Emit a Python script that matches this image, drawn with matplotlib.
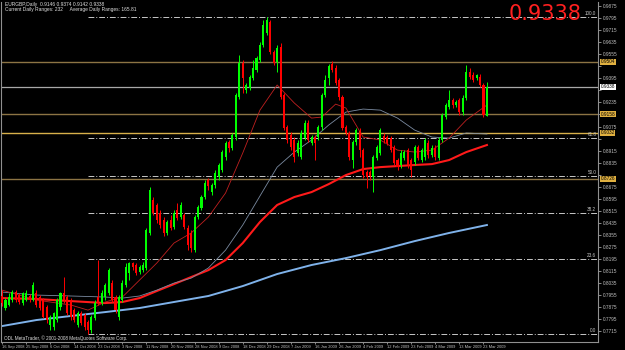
import numpy as np
import matplotlib
matplotlib.use("Agg")
import matplotlib.pyplot as plt

# -----------------------------------
# DAILY BARS  EURGBP  (16 Sep 2008 .. 24 Mar 2009)
# -----------------------------------
opens = [
    0.7948, 0.7868, 0.7888, 0.7921, 0.7974, 0.7954, 0.7901, 0.7921, 0.7948, 0.7921,
    0.7968, 0.7941, 0.7921, 0.7874, 0.7755, 0.7741, 0.7788, 0.7874, 0.7968, 0.7941,
    0.7921, 0.7854, 0.7755, 0.7835, 0.7821, 0.7775, 0.7721, 0.7801, 0.7941, 0.7901,
    0.7941, 0.7968, 0.8034, 0.7941, 0.7808, 0.7921, 0.8021, 0.8101, 0.8167, 0.8154,
    0.8107, 0.8120, 0.8134, 0.8367, 0.8586, 0.8553, 0.8500, 0.8453, 0.8367, 0.8453,
    0.8406, 0.8519, 0.8473, 0.8486, 0.8400, 0.8367, 0.8253, 0.8473, 0.8533, 0.8606,
    0.8719, 0.8639, 0.8686, 0.8739, 0.8785, 0.8872, 0.8972, 0.8932, 0.9005, 0.9271,
    0.9497, 0.9317, 0.9331, 0.9397, 0.9450, 0.9517, 0.9617, 0.9697, 0.9770, 0.9570,
    0.9504, 0.9603, 0.9284, 0.9071, 0.9018, 0.8985, 0.8899, 0.8872, 0.8998, 0.9098,
    0.8965, 0.9005, 0.9005, 0.9071, 0.9284, 0.9397, 0.9490, 0.9464, 0.9384, 0.9271,
    0.9071, 0.9032, 0.8852, 0.8972, 0.9045, 0.8918, 0.8772, 0.8772, 0.8739, 0.8865,
    0.8899, 0.9012, 0.9005, 0.8998, 0.8938, 0.8852, 0.8819, 0.8865, 0.8918, 0.8852,
    0.8839, 0.8938, 0.8852, 0.8872, 0.8965, 0.8885, 0.8932, 0.8865, 0.8985, 0.9138,
    0.9204, 0.9251, 0.9218, 0.9251, 0.9171, 0.9264, 0.9437, 0.9417, 0.9397, 0.9404,
    0.9351, 0.9146]
highs = [
    0.7987, 0.7934, 0.7968, 0.7987, 0.7987, 0.7968, 0.7974, 0.7987, 0.7961, 0.8041,
    0.7987, 0.7954, 0.7934, 0.7888, 0.7821, 0.7841, 0.7934, 0.7974, 0.8074, 0.7954,
    0.7934, 0.7868, 0.7848, 0.7848, 0.7835, 0.7788, 0.7821, 0.7921, 0.8187, 0.7987,
    0.8034, 0.8134, 0.8054, 0.7954, 0.7954, 0.8054, 0.8167, 0.8174, 0.8174, 0.8167,
    0.8154, 0.8174, 0.8400, 0.8672, 0.8606, 0.8566, 0.8519, 0.8473, 0.8453, 0.8486,
    0.8519, 0.8566, 0.8573, 0.8500, 0.8420, 0.8386, 0.8486, 0.8553, 0.8619, 0.8719,
    0.8732, 0.8699, 0.8785, 0.8832, 0.8918, 0.8978, 0.8985, 0.9032, 0.9298, 0.9550,
    0.9517, 0.9364, 0.9417, 0.9517, 0.9544, 0.9637, 0.9783, 0.9803, 0.9783, 0.9583,
    0.9617, 0.9630, 0.9298, 0.9085, 0.9038, 0.9005, 0.8985, 0.9051, 0.9118, 0.9118,
    0.9018, 0.9018, 0.9085, 0.9298, 0.9417, 0.9490, 0.9510, 0.9484, 0.9397, 0.9284,
    0.9085, 0.9045, 0.8985, 0.9065, 0.9065, 0.8932, 0.8785, 0.8785, 0.8885, 0.8952,
    0.9065, 0.9032, 0.9018, 0.9012, 0.8952, 0.8865, 0.8918, 0.8918, 0.8932, 0.8865,
    0.8952, 0.8952, 0.8932, 0.8998, 0.8985, 0.8952, 0.8952, 0.9005, 0.9165, 0.9231,
    0.9317, 0.9264, 0.9251, 0.9264, 0.9284, 0.9484, 0.9464, 0.9437, 0.9424, 0.9424,
    0.9364, 0.9374]
lows = [
    0.7881, 0.7854, 0.7881, 0.7908, 0.7908, 0.7894, 0.7888, 0.7914, 0.7908, 0.7914,
    0.7874, 0.7854, 0.7801, 0.7768, 0.7721, 0.7721, 0.7775, 0.7854, 0.7901, 0.7821,
    0.7788, 0.7775, 0.7741, 0.7755, 0.7721, 0.7695, 0.7702, 0.7788, 0.7888, 0.7888,
    0.7921, 0.7954, 0.7908, 0.7835, 0.7788, 0.7908, 0.8007, 0.8054, 0.8120, 0.8087,
    0.8094, 0.8107, 0.8120, 0.8353, 0.8486, 0.8433, 0.8400, 0.8347, 0.8353, 0.8386,
    0.8393, 0.8453, 0.8460, 0.8393, 0.8253, 0.8240, 0.8240, 0.8460, 0.8519, 0.8593,
    0.8652, 0.8619, 0.8666, 0.8719, 0.8772, 0.8852, 0.8905, 0.8918, 0.8985, 0.9258,
    0.9298, 0.9298, 0.9317, 0.9384, 0.9437, 0.9504, 0.9603, 0.9683, 0.9557, 0.9484,
    0.9437, 0.9258, 0.9051, 0.8965, 0.8918, 0.8839, 0.8879, 0.8859, 0.8985, 0.8972,
    0.8952, 0.8852, 0.8985, 0.9051, 0.9271, 0.9351, 0.9437, 0.9351, 0.9251, 0.9051,
    0.9018, 0.8852, 0.8799, 0.8952, 0.8872, 0.8732, 0.8666, 0.8719, 0.8639, 0.8852,
    0.8885, 0.8965, 0.8952, 0.8905, 0.8819, 0.8785, 0.8799, 0.8852, 0.8799, 0.8739,
    0.8819, 0.8852, 0.8839, 0.8852, 0.8865, 0.8872, 0.8852, 0.8852, 0.8972, 0.9125,
    0.9191, 0.9198, 0.9204, 0.9151, 0.9151, 0.9251, 0.9391, 0.9371, 0.9384, 0.9337,
    0.9140, 0.9142]
closes = [
    0.7901, 0.7921, 0.7941, 0.7974, 0.7921, 0.7908, 0.7968, 0.7968, 0.7921, 0.8021,
    0.7888, 0.7868, 0.7808, 0.7788, 0.7808, 0.7835, 0.7921, 0.7968, 0.7921, 0.7835,
    0.7808, 0.7788, 0.7835, 0.7768, 0.7741, 0.7721, 0.7808, 0.7901, 0.7901, 0.7968,
    0.8021, 0.8120, 0.7921, 0.7854, 0.7941, 0.8034, 0.8140, 0.8167, 0.8140, 0.8101,
    0.8140, 0.8154, 0.8386, 0.8652, 0.8500, 0.8453, 0.8420, 0.8367, 0.8440, 0.8400,
    0.8500, 0.8466, 0.8553, 0.8406, 0.8287, 0.8267, 0.8473, 0.8539, 0.8606, 0.8699,
    0.8679, 0.8686, 0.8766, 0.8819, 0.8905, 0.8965, 0.8932, 0.9018, 0.9284, 0.9497,
    0.9397, 0.9351, 0.9404, 0.9464, 0.9530, 0.9617, 0.9750, 0.9783, 0.9570, 0.9497,
    0.9597, 0.9271, 0.9065, 0.8985, 0.8938, 0.8872, 0.8965, 0.9032, 0.9098, 0.8985,
    0.9005, 0.8965, 0.9071, 0.9284, 0.9384, 0.9477, 0.9450, 0.9364, 0.9271, 0.9065,
    0.9032, 0.8872, 0.8972, 0.9051, 0.8918, 0.8752, 0.8739, 0.8746, 0.8872, 0.8938,
    0.9051, 0.8985, 0.8965, 0.8918, 0.8832, 0.8805, 0.8899, 0.8905, 0.8819, 0.8785,
    0.8938, 0.8865, 0.8918, 0.8985, 0.8885, 0.8932, 0.8872, 0.8985, 0.9151, 0.9218,
    0.9251, 0.9218, 0.9238, 0.9171, 0.9264, 0.9437, 0.9404, 0.9384, 0.9417, 0.9351,
    0.9150, 0.9338]

# moving averages (bar index -> price)
ma_fast_idx = [0, 10, 20, 25, 30, 35, 40, 45, 50, 55, 60, 65, 70, 75, 80, 85, 90,
               93, 97, 100, 105, 110, 115, 120, 125, 130, 135, 141]
ma_fast = [0.7987, 0.7921, 0.7888, 0.7854, 0.7908, 0.7941, 0.8054, 0.8167, 0.8300,
           0.8367, 0.8473, 0.8633, 0.8899, 0.9184, 0.9351, 0.9231, 0.9131, 0.9138,
           0.9224, 0.9198, 0.9005, 0.8985, 0.8918, 0.8905, 0.8918, 0.8998, 0.9118, 0.9218]
ma_mid_idx = [0, 10, 20, 30, 35, 40, 45, 50, 55, 60, 65, 70, 75, 80, 85, 90, 95,
              100, 105, 110, 115, 120, 125, 130, 135, 141]
ma_mid = [0.7974, 0.7954, 0.7948, 0.7941, 0.7934, 0.7948, 0.7987, 0.8034, 0.8067,
          0.8134, 0.8253, 0.8420, 0.8613, 0.8805, 0.8905, 0.8985, 0.9085, 0.9171,
          0.9191, 0.9184, 0.9131, 0.9051, 0.9005, 0.8998, 0.9032, 0.9025]
ma_slow = [0.7934, 0.7928, 0.7914, 0.7901, 0.7908, 0.7934, 0.7981, 0.8027, 0.8074,
           0.8120, 0.8187, 0.8300, 0.8440, 0.8553, 0.8606, 0.8639, 0.8692, 0.8752,
           0.8792, 0.8805, 0.8812, 0.8819, 0.8825, 0.8852, 0.8905, 0.8952]
ma_200_idx = [0, 10, 20, 30, 40, 50, 60, 70, 80, 90, 100, 110, 120, 130, 141]
ma_200 = [0.7748, 0.7788, 0.7815, 0.7841, 0.7868, 0.7908, 0.7948, 0.8014, 0.8094,
          0.8154, 0.8200, 0.8253, 0.8313, 0.8367, 0.8420]

# horizontal levels
gold_levels = [0.9504, 0.9158, 0.9032, 0.8726]
fib_pcts = ["100.0", "61.8", "50.0", "38.2", "23.6", "0.0"]
fib_ratios = [1.0, 0.618, 0.5, 0.382, 0.236, 0.0]

date_labels = ["16 Sep 2008", "25 Sep 2008", "6 Oct 2008", "14 Oct 2008", "23 Oct 2008",
               "3 Nov 2008", "11 Nov 2008", "20 Nov 2008", "28 Nov 2008", "9 Dec 2008",
               "18 Dec 2008", "29 Dec 2008", "7 Jan 2009", "16 Jan 2009", "26 Jan 2009",
               "4 Feb 2009", "12 Feb 2009", "23 Feb 2009", "4 Mar 2009", "13 Mar 2009",
               "23 Mar 2009"]
price_ticks = [0.9875, 0.9795, 0.9715, 0.9635, 0.9555, 0.9475, 0.9395, 0.9315, 0.9235,
               0.9155, 0.9075, 0.8995, 0.8915, 0.8835, 0.8755, 0.8675, 0.8595, 0.8515,
               0.8435, 0.8355, 0.8275, 0.8195, 0.8115, 0.8035, 0.7955, 0.7875, 0.7795,
               0.7715]

SMALL = "Liberation Sans"

# -----------------------------------
# FIGURE
# -----------------------------------
fig = plt.figure(figsize=(6.25, 3.5), dpi=100, facecolor="black")
ax = fig.add_axes([1 / 625, 8 / 350, 597 / 625, 340 / 350], facecolor="black")

o = np.array(opens)
h = np.array(highs)
l = np.array(lows)
c = np.array(closes)
idx = np.arange(len(c))
cols = np.where(c >= o, "#00ff00", "#ff0000")

last = c[-1]

# levels behind candles
for lv in gold_levels:
    ax.axhline(lv, color="#d8b04a" if lv == 0.9032 else "#8c7444", lw=1.0, zorder=1)
ax.axhline(last, color="#a8a8a8", lw=0.9, zorder=1)

fib_lo, fib_hi = min(lows), max(highs)
fib_start = int(np.argmin(l))
for r, lab in zip(fib_ratios, fib_pcts):
    lv = fib_lo + r * (fib_hi - fib_lo)
    ax.hlines(lv, fib_start, 173.3, colors="#c8c8c8", lw=0.7,
              linestyles=(0, (6, 2, 1, 2)), zorder=1)
    ax.text(172.8, lv + 0.0006, lab, color="#c8c8c8", fontsize=3.3, family=SMALL,
            ha="right", va="bottom", zorder=3)

# moving averages
ax.plot(ma_200_idx, ma_200, color="#7fb2ea", lw=1.4, zorder=2)
ax.plot(ma_mid_idx, ma_slow, color="#ff1a1a", lw=1.5, zorder=2)
ax.plot(ma_mid_idx, ma_mid, color="#7a8aa0", lw=0.6, zorder=2)
ax.plot(ma_fast_idx, ma_fast, color="#c02020", lw=0.6, zorder=2)

# candles
ax.vlines(idx, l, h, colors=cols, lw=0.7, zorder=4)
body = np.maximum(np.abs(c - o), 0.0003)
ax.bar(idx, body, bottom=np.minimum(o, c), width=0.6, color=cols, lw=0, zorder=5)

ax.set_xlim(-0.3, 173.3)
ax.set_ylim(0.7642, 0.9903)

# price axis on the right (tick labels hidden under the price boxes)
boxed = gold_levels + [last]
ax.yaxis.tick_right()
ax.set_yticks(price_ticks)
ax.set_yticklabels(["" if min(abs(p - b) for b in boxed) < 0.004 else f"{p:.4f}"
                    for p in price_ticks])
ax.tick_params(axis="y", colors="#c0c0c0", labelsize=3.4, length=2, width=0.5, pad=1.5)

# date axis
ax.set_xticks(np.arange(0, 7 * len(date_labels), 7))
ax.set_xticklabels(date_labels)
ax.tick_params(axis="x", colors="#c0c0c0", labelsize=2.9, length=1.5, width=0.5, pad=0.4)
for t in ax.get_xticklabels() + ax.get_yticklabels():
    t.set_family(SMALL)
for t in ax.get_xticklabels():
    t.set_ha("left")

for s in ["left", "right", "bottom"]:
    ax.spines[s].set_color("#909090")
    ax.spines[s].set_linewidth(0.8)
ax.spines["top"].set_visible(False)

# price boxes on the axis
ytr = ax.get_yaxis_transform()
for lv in gold_levels:
    ax.text(1.004, lv, f"{lv:.4f}", transform=ytr, fontsize=3.4, color="black",
            family=SMALL, va="center", ha="left", clip_on=False,
            bbox=dict(facecolor="#e0b040", edgecolor="none", pad=0.6))
ax.text(1.004, last, f"{last:.4f}", transform=ytr, fontsize=3.4, color="black",
        family=SMALL, va="center", ha="left", clip_on=False,
        bbox=dict(facecolor="white", edgecolor="none", pad=0.6))

# texts
fig.text(5 / 625, 1 - 2 / 350, "EURGBP,Daily  0.9146 0.9374 0.9142 0.9338",
         color="#e0e0e0", fontsize=3.5, family=SMALL, va="top")
fig.text(5 / 625, 1 - 7 / 350, "Current Daily Ranges: 232     Average Daily Ranges: 165.81",
         color="#e0e0e0", fontsize=3.5, family=SMALL, va="top")
fig.text(581 / 625, 1 - 4 / 350, f"{last:.4f}", color="#ff2020", fontsize=15,
         ha="right", va="top")
fig.text(4 / 625, 1 - 338 / 350, "ODL MetaTrader, \u00a9 2001-2008 MetaQuotes Software Corp.",
         color="#e0e0e0", fontsize=3.3, family=SMALL, va="center")

fig.savefig("out.png", dpi=100, facecolor="black")
